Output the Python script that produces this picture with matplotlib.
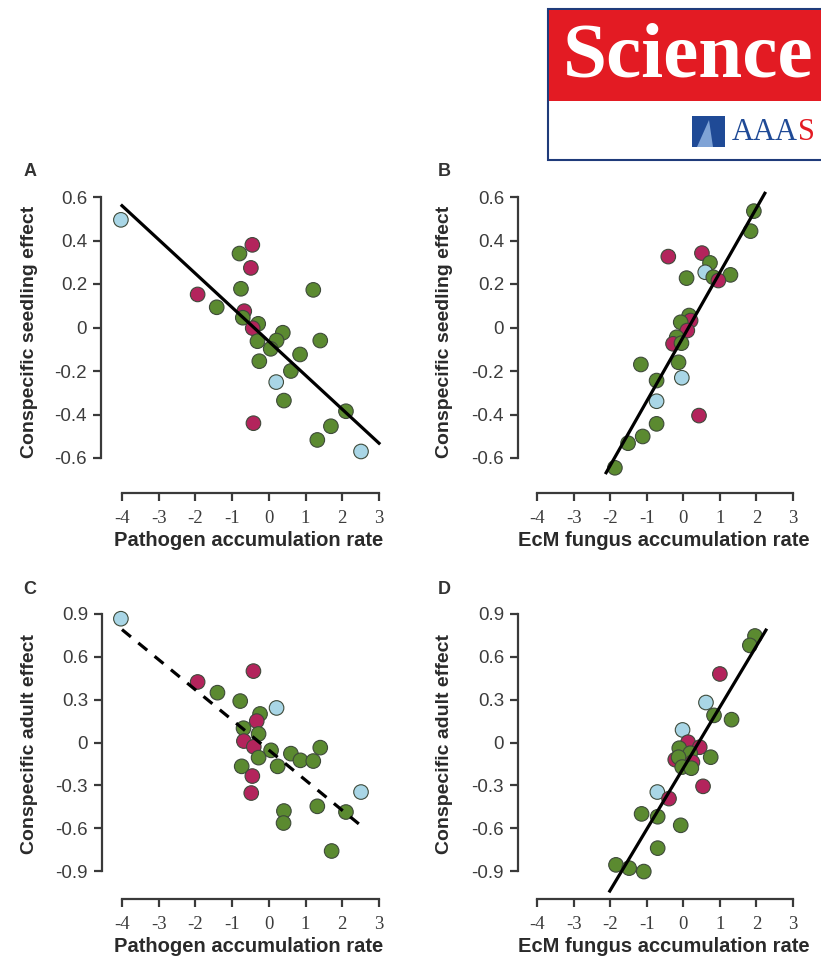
import matplotlib
matplotlib.use('Agg')
import matplotlib.pyplot as plt
from matplotlib.patches import Rectangle, Polygon
import numpy as np

plt.rcParams['axes.unicode_minus'] = False

W, H = 821, 957

# colour groups: g = green, m = magenta, b = light blue
colors = {'g': '#5b8a30', 'm': '#b3245c', 'b': '#a9d6e6'}

# Panel A: pathogen accumulation rate vs conspecific seedling effect
a_x = [-4.03, -0.45, -0.80, -0.49, -0.76, 1.21, -1.94, -1.42, -0.67, -0.71, -0.29, -0.44,
       0.38, 0.21, -0.31, 1.40, 0.05, 0.85, -0.26, 0.60, 0.20, 0.41, 2.10, -0.42, 1.69, 1.32, 2.51]
a_y = [0.495, 0.38, 0.34, 0.274, 0.178, 0.173, 0.152, 0.093, 0.075, 0.045, 0.017, -0.003,
       -0.024, -0.06, -0.063, -0.06, -0.098, -0.124, -0.155, -0.20, -0.251, -0.336, -0.385,
       -0.44, -0.454, -0.517, -0.570]
a_c = ['b', 'm', 'g', 'm', 'g', 'g', 'm', 'g', 'm', 'g', 'g', 'm',
       'g', 'g', 'g', 'g', 'g', 'g', 'g', 'g', 'b', 'g', 'g', 'm', 'g', 'g', 'b']
a_fit = (-0.156, -0.064, -4.0, 3.0)  # slope, intercept, x from, x to

# Panel B: EcM fungus accumulation rate vs conspecific seedling effect
b_x = [1.93, 1.84, -0.41, 0.51, 0.73, 0.60, 0.82, 1.29, 0.96, 0.09, 0.16, 0.20, -0.07,
       0.11, -0.18, -0.28, -0.05, -1.16, -0.13, -0.04, -0.73, -0.73, 0.43, -0.73, -1.11,
       -1.51, -1.87]
b_y = [0.535, 0.443, 0.326, 0.342, 0.297, 0.254, 0.231, 0.242, 0.216, 0.227, 0.055, 0.032,
       0.024, -0.014, -0.045, -0.075, -0.072, -0.17, -0.16, -0.231, -0.244, -0.339, -0.405,
       -0.443, -0.501, -0.532, -0.645]
b_c = ['g', 'g', 'm', 'm', 'g', 'b', 'g', 'g', 'm', 'g', 'g', 'm', 'g',
       'm', 'g', 'm', 'g', 'g', 'g', 'b', 'g', 'b', 'm', 'g', 'g', 'g', 'g']
b_fit = (0.296, -0.043, -2.11, 2.23)

# Panel C: pathogen accumulation rate vs conspecific adult effect
c_x = [-4.03, -0.42, -1.94, -1.40, -0.78, 0.21, -0.24, -0.33, -0.69, -0.28, -0.68, -0.41,
       0.06, 0.60, 1.40, 0.86, 1.21, -0.28, 0.24, -0.74, -0.45, -0.48, 2.51, 0.41, 1.32,
       2.10, 0.40, 1.71]
c_y = [0.867, 0.50, 0.424, 0.349, 0.29, 0.242, 0.20, 0.15, 0.10, 0.06, 0.01, -0.03,
       -0.055, -0.078, -0.036, -0.125, -0.13, -0.106, -0.167, -0.167, -0.235, -0.354, -0.347,
       -0.48, -0.447, -0.487, -0.564, -0.76]
c_c = ['b', 'm', 'm', 'g', 'g', 'b', 'g', 'm', 'g', 'g', 'm', 'm',
       'g', 'g', 'g', 'g', 'g', 'g', 'g', 'g', 'm', 'm', 'b', 'g', 'g',
       'g', 'g', 'g']
c_fit = (-0.211, -0.053, -4.0, 2.45)

# Panel D: EcM fungus accumulation rate vs conspecific adult effect
d_x = [1.96, 1.82, 1.00, 0.62, 0.84, 1.32, -0.02, 0.13, 0.45, -0.11, 0.19, -0.22, -0.13,
       0.75, 0.25, -0.03, 0.22, 0.54, -0.71, -0.39, -1.14, -0.70, -0.07, -0.70, -1.84,
       -1.48, -1.08]
d_y = [0.746, 0.68, 0.48, 0.28, 0.19, 0.16, 0.088, 0.002, -0.033, -0.04, -0.075, -0.12,
       -0.103, -0.103, -0.138, -0.172, -0.18, -0.307, -0.347, -0.393, -0.50, -0.52, -0.58,
       -0.74, -0.857, -0.88, -0.904]
d_c = ['g', 'g', 'm', 'b', 'g', 'g', 'b', 'm', 'm', 'g', 'g', 'm', 'g',
       'g', 'm', 'g', 'g', 'm', 'b', 'm', 'g', 'g', 'g', 'g', 'g', 'g', 'g']
d_fit = (0.428, -0.180, -2.01, 2.26)

x_ticks = [-4, -3, -2, -1, 0, 1, 2, 3]
seed_ticks = [0.6, 0.4, 0.2, 0, -0.2, -0.4, -0.6]
seed_labels = ['0.6', '0.4', '0.2', '0', '-0.2', '-0.4', '-0.6']
adult_ticks = [0.9, 0.6, 0.3, 0, -0.3, -0.6, -0.9]
adult_labels = ['0.9', '0.6', '0.3', '0', '-0.3', '-0.6', '-0.9']

fig = plt.figure(figsize=(W / 100, H / 100), dpi=100)
fig.patch.set_facecolor('white')

def px_box(x0, y0, x1, y1):
    return [x0 / W, 1 - y1 / H, (x1 - x0) / W, (y1 - y0) / H]

panels = [
    # letter, box(px), data, fit, dashed, yticks, ylabels, ylabel, xlabel, spine offsets(px), label pos
    ('A', (122, 197, 379, 458), (a_x, a_y, a_c), a_fit, False, seed_ticks, seed_labels,
     'Conspecific seedling effect', 'Pathogen accumulation rate', (21, 35), (30, 172), (249, 541), (30, 332)),
    ('B', (537, 197, 793, 458), (b_x, b_y, b_c), b_fit, False, seed_ticks, seed_labels,
     'Conspecific seedling effect', 'EcM fungus accumulation rate', (19, 35), (444, 172), (664, 541), (444, 332)),
    ('C', (122, 614, 379, 871), (c_x, c_y, c_c), c_fit, True, adult_ticks, adult_labels,
     'Conspecific adult effect', 'Pathogen accumulation rate', (20, 28), (30, 590), (249, 946), (30, 744)),
    ('D', (537, 614, 793, 871), (d_x, d_y, d_c), d_fit, False, adult_ticks, adult_labels,
     'Conspecific adult effect', 'EcM fungus accumulation rate', (19, 28), (444, 590), (664, 946), (444, 744)),
]

spine_col = '#3a3a3a'
for letter, box, (xs, ys, cs), fit, dashed, yt, yl, ylab, xlab, offs, lpos, xlpos, ylpos in panels:
    ax = fig.add_axes(px_box(*box))
    ax.set_xlim(-4, 3)
    ax.set_ylim(min(yt), max(yt))
    for s in ['top', 'right']:
        ax.spines[s].set_visible(False)
    ax.spines['left'].set_position(('outward', offs[0] * 0.72))
    ax.spines['bottom'].set_position(('outward', offs[1] * 0.72))
    for s in ['left', 'bottom']:
        ax.spines[s].set_color(spine_col)
        ax.spines[s].set_linewidth(1.6)
    ax.set_xticks(x_ticks)
    ax.set_xticklabels([str(t) for t in x_ticks], family='Liberation Serif', fontsize=13.5)
    ax.set_yticks(yt)
    ax.set_yticklabels(yl, family='Liberation Sans', fontsize=13.5)
    ax.tick_params(axis='both', direction='out', length=6, width=1.6, color=spine_col,
                   labelcolor='#3c3c3c')
    ax.tick_params(axis='x', pad=6)
    ax.tick_params(axis='y', pad=4)

    ax.scatter(xs, ys, s=110, c=[colors[k] for k in cs], edgecolors='#3e4a3a',
               linewidths=0.8, clip_on=False, zorder=2)
    slope, icpt, x0, x1 = fit
    lx = np.array([x0, x1])
    ax.plot(lx, icpt + slope * lx, color='black', lw=2.3, clip_on=False, zorder=3,
            ls=(0, (3.6, 3.0)) if dashed else '-')

    fig.text(lpos[0] / W, 1 - lpos[1] / H, letter, fontsize=13, fontweight='bold',
             family='Liberation Sans', color='#333333', ha='center', va='center')
    fig.text(xlpos[0] / W, 1 - xlpos[1] / H, xlab, fontsize=14.5, fontweight='bold',
             family='Liberation Sans', color='#2a2a2a', ha='center', va='center')
    fig.text(ylpos[0] / W, 1 - ylpos[1] / H, ylab, fontsize=14, fontweight='bold',
             family='Liberation Sans', color='#2a2a2a', ha='center', va='center', rotation=90)

# Science / AAAS logo in the corner
fig.add_artist(Rectangle((548 / W, 1 - 160 / H), 280 / W, 151 / H, transform=fig.transFigure,
                         facecolor='white', edgecolor='#1f3b7a', lw=1.5))
fig.add_artist(Rectangle((549 / W, 1 - 101 / H), 280 / W, 91 / H, transform=fig.transFigure,
                         facecolor='#e31b23', edgecolor='none'))
fig.text(563 / W, 1 - 58 / H, 'Science', fontsize=57, fontweight='bold', family='Liberation Serif',
         color='white', ha='left', va='center')
fig.add_artist(Polygon([(692 / W, 1 - 147 / H), (692 / W, 1 - 116 / H), (725 / W, 1 - 116 / H),
                        (725 / W, 1 - 147 / H)], closed=True, transform=fig.transFigure,
                       facecolor='#1f4a96', edgecolor='none'))
fig.add_artist(Polygon([(697 / W, 1 - 147 / H), (709 / W, 1 - 120 / H), (713 / W, 1 - 147 / H)],
                       closed=True, transform=fig.transFigure, facecolor='#7fa3d6', edgecolor='none'))
aaa = fig.text(732 / W, 1 - 132 / H, 'AAA', fontsize=22, family='Liberation Serif', color='#1f4a96',
               ha='left', va='center')
r = fig.canvas.get_renderer()
bb = aaa.get_window_extent(renderer=r)
fig.text(bb.x1 / fig.bbox.width, 1 - 132 / H, 'S', fontsize=22, family='Liberation Serif',
         color='#e31b23', ha='left', va='center')

plt.savefig('out.png', dpi=100)
